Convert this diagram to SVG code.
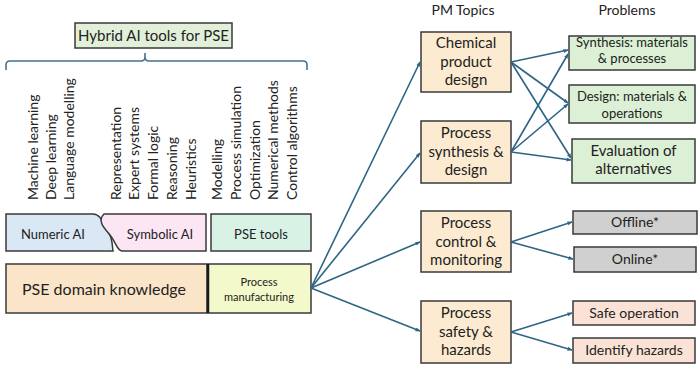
<svg xmlns="http://www.w3.org/2000/svg" width="700" height="367" viewBox="0 0 700 367">
<defs>
<marker id="ah" viewBox="0 0 10 10" refX="9" refY="5" markerWidth="5" markerHeight="5" orient="auto" markerUnits="userSpaceOnUse"><path d="M0,1 L10,5 L0,9 Z" fill="#2e6585"/></marker>
<style>
text{font-family:Lato,"Open Sans","Liberation Sans",sans-serif;fill:#222;}
.box{stroke:#3a3a3a;stroke-width:1.5;}
.topic{fill:#fcebd1;}
.prob{fill:#dcf0d5;}
.grey{fill:#d0d0d0;}
.salmon{fill:#fbe2d6;}
.c{text-anchor:middle;}
.rot{font-size:14px;}
.conn line{stroke:#2e6585;stroke-width:1.6;marker-end:url(#ah);}
</style>
</defs>
<rect width="700" height="367" fill="#ffffff"/>

<g id="hybrid">
<rect class="box" x="75" y="23" width="157" height="25" fill="#e2f0d9"/>
<text class="c" x="153.5" y="40.5" font-size="15">Hybrid AI tools for PSE</text>
</g>

<g id="bracket">
<path d="M6,70 V65 Q6,61 10,61 H141 Q145,61 145,57 V53 M145,53 V57 Q145,61 149,61 H303 Q307,61 307,65 V70" fill="none" stroke="#46708f" stroke-width="1.6"/>
</g>

<g id="tool-list">
<text class="rot" transform="translate(38,200) rotate(-90)">Machine learning</text>
<text class="rot" transform="translate(56,200) rotate(-90)">Deep learning</text>
<text class="rot" transform="translate(74,200) rotate(-90)">Language modelling</text>
<text class="rot" transform="translate(121,200) rotate(-90)">Representation</text>
<text class="rot" transform="translate(139,200) rotate(-90)">Expert systems</text>
<text class="rot" transform="translate(158,200) rotate(-90)">Formal logic</text>
<text class="rot" transform="translate(177,200) rotate(-90)">Reasoning</text>
<text class="rot" transform="translate(196,200) rotate(-90)">Heuristics</text>
<text class="rot" transform="translate(222,200) rotate(-90)">Modelling</text>
<text class="rot" transform="translate(241,200) rotate(-90)">Process simulation</text>
<text class="rot" transform="translate(260,200) rotate(-90)">Optimization</text>
<text class="rot" transform="translate(278,200) rotate(-90)">Numerical methods</text>
<text class="rot" transform="translate(297,200) rotate(-90)">Control algorithms</text>
</g>

<g id="numeric-ai">
<path class="box" d="M6,214 H93 C102,214 103,226 108,232 C113,238 112,246 113,251 H6 Z" fill="#dae8f5"/>
<text class="c" x="53" y="238.5" font-size="13">Numeric AI</text>
</g>
<g id="symbolic-ai">
<path class="box" d="M104,214 H206 V251 H122 C117,251 116,242 110,235 C104,228 97,221 104,214 Z" fill="#fce6f4"/>
<text class="c" x="160" y="238.5" font-size="13">Symbolic AI</text>
</g>
<g id="pse-tools">
<rect class="box" x="211" y="214" width="100" height="37" fill="#d9f2e6"/>
<text class="c" x="261" y="238.5" font-size="13">PSE tools</text>
</g>
<g id="pse-domain">
<rect class="box" x="6" y="264" width="201" height="49" fill="#fbe5c9"/>
<text class="c" x="104" y="294.5" font-size="16">PSE domain knowledge</text>
</g>
<g id="process-manufacturing">
<rect class="box" x="208" y="264" width="103" height="49" fill="#f3f9cb"/>
<line x1="208" y1="264" x2="208" y2="313" stroke="#1a1a1a" stroke-width="2.5"/>
<text class="c" x="259" y="285.5" font-size="11">Process</text>
<text class="c" x="259" y="300.5" font-size="11">manufacturing</text>
</g>

<g id="headers">
<text class="c" x="463" y="15" font-size="14">PM Topics</text>
<text class="c" x="627" y="15" font-size="14">Problems</text>
</g>

<g id="chemical-product-design">
<rect class="box topic" x="421" y="32" width="90" height="60"/>
<text class="c" x="466" y="48" font-size="15">Chemical</text>
<text class="c" x="466" y="67" font-size="15">product</text>
<text class="c" x="466" y="85" font-size="15">design</text>
</g>
<g id="process-synthesis-design">
<rect class="box topic" x="421" y="121" width="90" height="62"/>
<text class="c" x="466" y="138" font-size="15">Process</text>
<text class="c" x="466" y="157" font-size="15">synthesis &amp;</text>
<text class="c" x="466" y="175" font-size="15">design</text>
</g>
<g id="process-control-monitoring">
<rect class="box topic" x="421" y="211" width="90" height="61"/>
<text class="c" x="466" y="228" font-size="15">Process</text>
<text class="c" x="466" y="247" font-size="15">control &amp;</text>
<text class="c" x="466" y="265" font-size="15">monitoring</text>
</g>
<g id="process-safety-hazards">
<rect class="box topic" x="421" y="301" width="90" height="62"/>
<text class="c" x="466" y="318" font-size="15">Process</text>
<text class="c" x="466" y="337" font-size="15">safety &amp;</text>
<text class="c" x="466" y="355" font-size="15">hazards</text>
</g>

<g id="synthesis-materials-processes">
<rect class="box prob" x="569" y="36" width="126" height="34"/>
<text class="c" x="632" y="46.5" font-size="13">Synthesis: materials</text>
<text class="c" x="632" y="62.5" font-size="13">&amp; processes</text>
</g>
<g id="design-materials-operations">
<rect class="box prob" x="569" y="85" width="126" height="38"/>
<text class="c" x="632" y="100.5" font-size="13">Design: materials &amp;</text>
<text class="c" x="632" y="117.5" font-size="13">operations</text>
</g>
<g id="evaluation-alternatives">
<rect class="box prob" x="572" y="139" width="123" height="44"/>
<text class="c" x="633.5" y="156" font-size="15">Evaluation of</text>
<text class="c" x="633.5" y="174" font-size="15">alternatives</text>
</g>
<g id="offline">
<rect class="box grey" x="573" y="211" width="124" height="23"/>
<text class="c" x="635" y="227" font-size="14">Offline*</text>
</g>
<g id="online">
<rect class="box grey" x="574" y="247" width="122" height="25"/>
<text class="c" x="635" y="264" font-size="14">Online*</text>
</g>
<g id="safe-operation">
<rect class="box salmon" x="573" y="301" width="122" height="24"/>
<text class="c" x="634" y="318" font-size="14">Safe operation</text>
</g>
<g id="identify-hazards">
<rect class="box salmon" x="573" y="338" width="122" height="25"/>
<text class="c" x="634" y="355" font-size="14">Identify hazards</text>
</g>

<g id="connectors" class="conn">
<line x1="311" y1="288" x2="420" y2="62"/>
<line x1="311" y1="288" x2="420" y2="153"/>
<line x1="311" y1="288" x2="420" y2="242"/>
<line x1="311" y1="288" x2="420" y2="331"/>
<line x1="511" y1="62" x2="568" y2="50"/>
<line x1="511" y1="62" x2="568" y2="103"/>
<line x1="511" y1="62" x2="571" y2="158"/>
<line x1="511" y1="152" x2="568" y2="54"/>
<line x1="511" y1="152" x2="568" y2="104"/>
<line x1="511" y1="152" x2="571" y2="160"/>
<line x1="511" y1="242" x2="572" y2="222"/>
<line x1="511" y1="242" x2="573" y2="259"/>
<line x1="511" y1="332" x2="572" y2="313"/>
<line x1="511" y1="332" x2="572" y2="350"/>
</g>
</svg>
